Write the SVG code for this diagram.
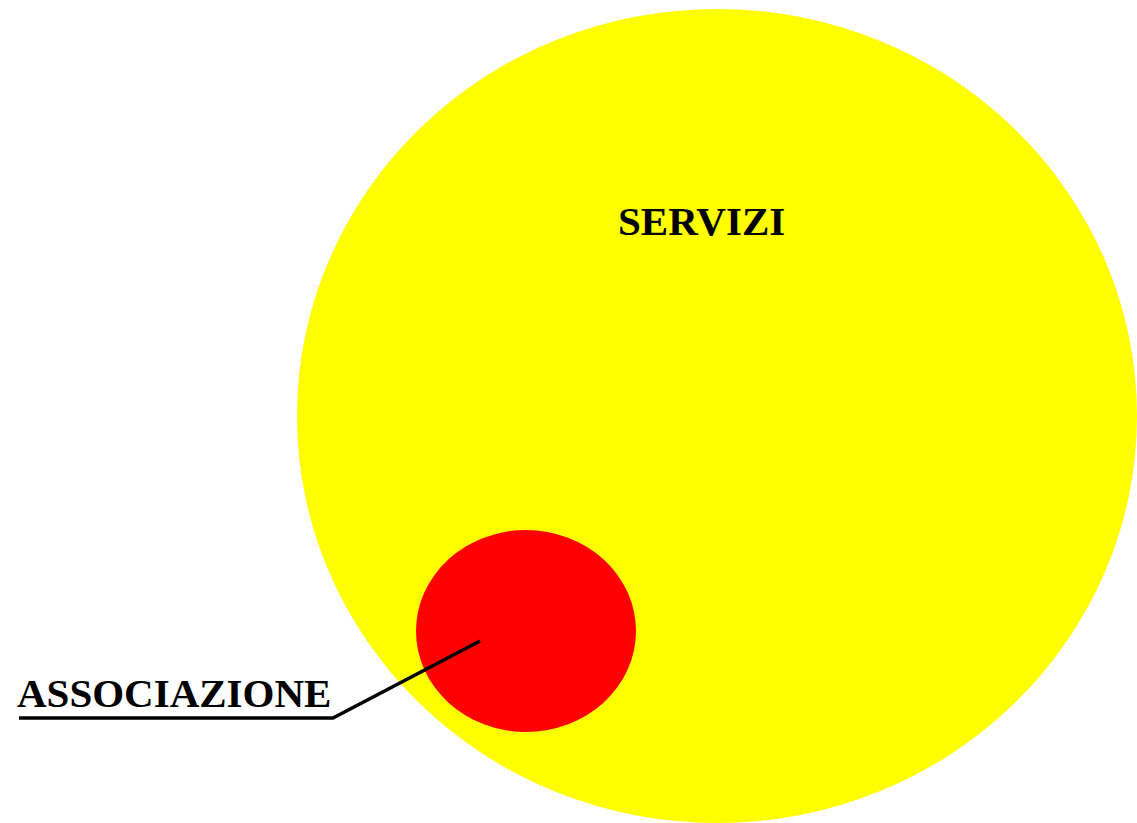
<svg xmlns="http://www.w3.org/2000/svg" width="1137" height="823" viewBox="0 0 1137 823">
<style>
.lbl{font-family:"Liberation Serif","Times New Roman",serif;font-weight:bold;font-size:41px;fill:#000}
</style>
<rect width="1137" height="823" fill="#fff"/>
<g id="servizi">
<ellipse cx="717" cy="416" rx="420" ry="407" fill="#ffff00"/>
<text class="lbl" x="618" y="235">SERVIZI</text>
</g>
<g id="associazione">
<ellipse cx="526" cy="631" rx="110" ry="101" fill="#ff0000"/>
<text class="lbl" x="17" y="707">ASSOCIAZIONE</text>
</g>
<g id="connectors">
<polyline points="480,641 333,718 19,718" fill="none" stroke="#000" stroke-width="3.5"/>
</g>
</svg>
